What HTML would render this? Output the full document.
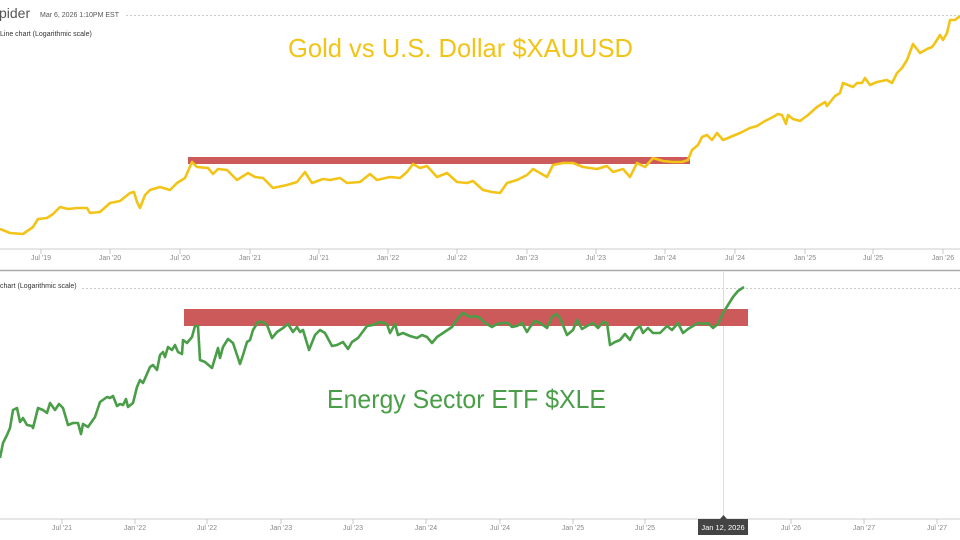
<!DOCTYPE html>
<html><head><meta charset="utf-8"><style>
html,body{margin:0;padding:0;background:#fff;}
svg{display:block;font-family:"Liberation Sans",sans-serif;}
</style></head><body>
<svg width="960" height="540" viewBox="0 0 960 540" xmlns="http://www.w3.org/2000/svg">
<rect width="960" height="540" fill="#fff"/>
<!-- top header -->
<text x="-1" y="18" font-size="14" fill="#555">pider</text>
<text x="40" y="17" font-size="7" fill="#555">Mar 6, 2026 1:10PM EST</text>
<line x1="126" y1="15.5" x2="960" y2="15.5" stroke="#bbb" stroke-width="0.8" stroke-dasharray="2,2"/>
<text x="0" y="36" font-size="7" fill="#333">Line chart (Logarithmic scale)</text>
<text x="288" y="57" font-size="26" fill="#f2c418" textLength="345" lengthAdjust="spacingAndGlyphs">Gold vs U.S. Dollar $XAUUSD</text>

<!-- top red bar -->
<rect x="188" y="157" width="502" height="7" fill="#cd5a5a"/>
<!-- gold line -->
<polyline fill="none" stroke="#f2c418" stroke-width="2.6" stroke-linejoin="round" points="0,229 10,233 23,234 33,227 38,219 47,218 53,214 60,207 68,209 77,208 87,208 90,213 100,212 110,203 120,201 130,193 134,192 137,202 140,208 145,195 150,190 160,187 170,190 177,183 185,178 192,162 197,167 208,168 213,174 218,169 227,170 237,180 248,173 255,177 263,178 273,188 287,185 297,182 305,172 312,183 323,179 330,180 340,178 347,183 360,182 370,174 377,180 390,177 400,178 407,172 413,164 420,168 427,166 437,177 447,173 457,182 467,183 473,181 483,190 492,192 500,193 507,183 517,180 527,175 533,169 547,177 553,165 563,163 573,163 583,167 597,169 607,166 613,172 623,169 630,177 637,163 645,167 653,158 663,161 673,162 682,162 688,160 692,150 698,145 702,137 707,135 712,140 717,133 723,140 728,138 735,135 740,133 750,128 757,126 765,121 773,117 778,114 782,115 786,124 788,115 793,119 800,121 808,115 817,107 825,102 827,106 835,96 840,93 843,83 848,85 853,87 857,83 862,83 865,78 870,85 877,82 887,80 892,83 897,73 902,68 907,60 913,44 920,53 927,49 932,47 935,43 940,35 943,40 947,33 950,20 955,20 960,16"/>

<!-- top axis -->
<line x1="0" y1="249" x2="960" y2="249" stroke="#ccc" stroke-width="1"/>
<g stroke="#bbb" stroke-width="0.8">
<line x1="41" y1="249" x2="41" y2="254"/><line x1="110" y1="249" x2="110" y2="254"/><line x1="180" y1="249" x2="180" y2="254"/><line x1="250" y1="249" x2="250" y2="254"/><line x1="319" y1="249" x2="319" y2="254"/><line x1="388" y1="249" x2="388" y2="254"/><line x1="457" y1="249" x2="457" y2="254"/><line x1="527" y1="249" x2="527" y2="254"/><line x1="596" y1="249" x2="596" y2="254"/><line x1="665" y1="249" x2="665" y2="254"/><line x1="735" y1="249" x2="735" y2="254"/><line x1="805" y1="249" x2="805" y2="254"/><line x1="873" y1="249" x2="873" y2="254"/><line x1="943" y1="249" x2="943" y2="254"/>
</g>
<g font-size="7" fill="#888" text-anchor="middle">
<text x="41" y="260">Jul '19</text><text x="110" y="260">Jan '20</text><text x="180" y="260">Jul '20</text><text x="250" y="260">Jan '21</text><text x="319" y="260">Jul '21</text><text x="388" y="260">Jan '22</text><text x="457" y="260">Jul '22</text><text x="527" y="260">Jan '23</text><text x="596" y="260">Jul '23</text><text x="665" y="260">Jan '24</text><text x="735" y="260">Jul '24</text><text x="805" y="260">Jan '25</text><text x="873" y="260">Jul '25</text><text x="943" y="260">Jan '26</text>
</g>
<line x1="0" y1="270.5" x2="960" y2="270.5" stroke="#aaa" stroke-width="1.5"/>

<!-- bottom pane -->
<text x="0" y="288" font-size="7" fill="#333">chart (Logarithmic scale)</text>
<line x1="82" y1="288.5" x2="960" y2="288.5" stroke="#bbb" stroke-width="0.8" stroke-dasharray="2,2"/>
<line x1="723.5" y1="272" x2="723.5" y2="519" stroke="#ddd" stroke-width="1"/>
<rect x="184" y="309" width="564" height="17" fill="#cd5a5a"/>
<polyline fill="none" stroke="#4a9e48" stroke-width="2.6" stroke-linejoin="round" points="0,458 3,443 7,435 10,428 13,410 17,408 20,422 23,418 27,425 32,426 33,428 38,408 43,410 47,413 50,403 55,410 59,404 63,408 68,425 73,423 78,423 81,434 83,424 88,427 95,417 100,402 107,397 110,398 113,396 117,406 120,404 123,405 126,399 128,407 133,403 137,387 140,380 143,383 150,367 153,365 157,370 160,355 163,352 165,357 168,347 172,350 175,345 178,352 182,354 183,340 187,343 192,337 195,326 198,326 200,360 205,362 212,368 218,348 220,358 223,347 228,339 233,343 240,364 243,355 247,342 250,340 253,330 258,322 263,322 267,325 272,338 277,332 283,328 288,324 293,332 297,327 300,332 303,330 309,350 315,335 320,330 325,333 332,346 337,345 343,342 348,349 352,342 358,338 367,326 373,325 380,322 387,324 390,333 395,324 398,335 403,333 410,336 417,338 422,335 427,337 432,343 437,337 443,333 452,327 458,318 463,313 470,317 475,316 480,318 485,323 492,327 497,324 503,323 508,323 512,327 517,326 522,323 527,332 530,327 535,321 540,323 547,328 552,317 556,314 560,318 567,335 573,330 577,320 582,329 587,326 593,323 598,328 603,322 607,323 610,345 615,342 620,340 625,334 630,340 635,330 640,326 643,333 648,328 653,333 660,333 667,326 672,330 678,323 683,333 688,329 693,326 698,323 703,324 708,323 713,328 718,324 723,313 728,305 733,297 738,291 744,287"/>
<text x="327" y="408" font-size="26" fill="#4a9e48" textLength="279" lengthAdjust="spacingAndGlyphs">Energy Sector ETF $XLE</text>

<!-- bottom axis -->
<line x1="0" y1="519" x2="960" y2="519" stroke="#ccc" stroke-width="1"/>
<g stroke="#bbb" stroke-width="0.8">
<line x1="62" y1="519" x2="62" y2="524"/><line x1="135" y1="519" x2="135" y2="524"/><line x1="207" y1="519" x2="207" y2="524"/><line x1="281" y1="519" x2="281" y2="524"/><line x1="353" y1="519" x2="353" y2="524"/><line x1="426" y1="519" x2="426" y2="524"/><line x1="500" y1="519" x2="500" y2="524"/><line x1="573" y1="519" x2="573" y2="524"/><line x1="645" y1="519" x2="645" y2="524"/><line x1="791" y1="519" x2="791" y2="524"/><line x1="864" y1="519" x2="864" y2="524"/><line x1="937" y1="519" x2="937" y2="524"/>
</g>
<g font-size="7" fill="#888" text-anchor="middle">
<text x="62" y="530">Jul '21</text><text x="135" y="530">Jan '22</text><text x="207" y="530">Jul '22</text><text x="281" y="530">Jan '23</text><text x="353" y="530">Jul '23</text><text x="426" y="530">Jan '24</text><text x="500" y="530">Jul '24</text><text x="573" y="530">Jan '25</text><text x="645" y="530">Jul '25</text><text x="791" y="530">Jul '26</text><text x="864" y="530">Jan '27</text><text x="937" y="530">Jul '27</text>
</g>
<!-- tooltip -->
<polygon points="720,519 723.5,515 727,519" fill="#444"/>
<rect x="698" y="519" width="50" height="16" fill="#444"/>
<text x="723" y="530" font-size="7.5" fill="#fff" text-anchor="middle">Jan 12, 2026</text>
</svg>
</body></html>
